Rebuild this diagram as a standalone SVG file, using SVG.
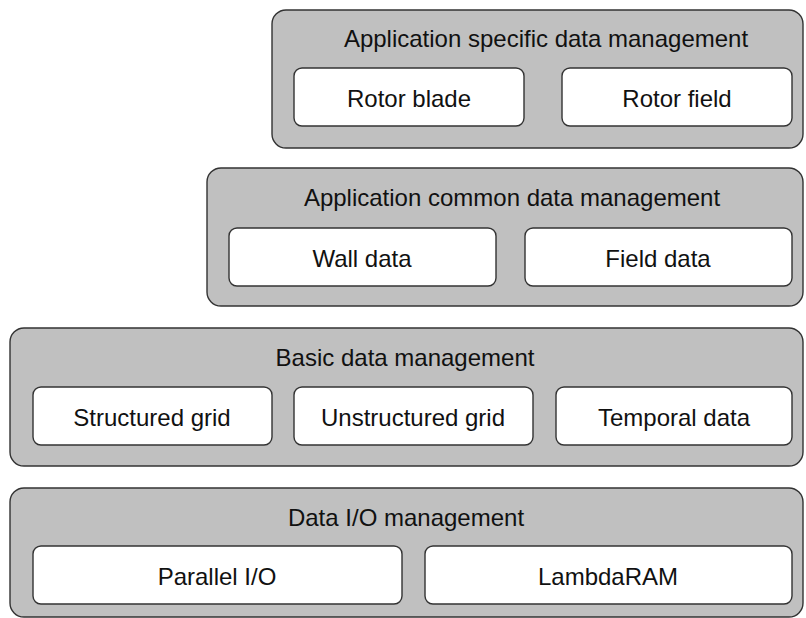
<svg xmlns="http://www.w3.org/2000/svg" width="806" height="618" viewBox="0 0 806 618">
<style>
.layer{fill:#c0c0c0;stroke:#333;stroke-width:1.4}
.box{fill:#fff;stroke:#333;stroke-width:1.4}
text{font-family:"Liberation Sans",Arial,sans-serif;font-size:24px;fill:#111;text-anchor:middle}
</style>
<rect width="806" height="618" fill="#fff"/>
<g id="layer-app-specific">
<rect class="layer" x="272" y="10" width="531" height="138" rx="14"/>
<text x="546" y="47">Application specific data management</text>
</g>
<g id="rotor-blade"><rect class="box" x="294" y="68" width="230" height="58" rx="8"/><text x="409" y="107">Rotor blade</text></g>
<g id="rotor-field"><rect class="box" x="562" y="68" width="230" height="58" rx="8"/><text x="677" y="107">Rotor field</text></g>
<g id="layer-app-common">
<rect class="layer" x="207" y="168" width="596" height="138" rx="14"/>
<text x="512" y="206">Application common data management</text>
</g>
<g id="wall-data"><rect class="box" x="229" y="228" width="267" height="58" rx="8"/><text x="362" y="267">Wall data</text></g>
<g id="field-data"><rect class="box" x="525" y="228" width="267" height="58" rx="8"/><text x="658" y="267">Field data</text></g>
<g id="layer-basic">
<rect class="layer" x="10" y="328" width="793" height="138" rx="14"/>
<text x="405" y="366">Basic data management</text>
</g>
<g id="structured-grid"><rect class="box" x="33" y="387" width="239" height="58" rx="8"/><text x="152" y="426">Structured grid</text></g>
<g id="unstructured-grid"><rect class="box" x="294" y="387" width="239" height="58" rx="8"/><text x="413" y="426">Unstructured grid</text></g>
<g id="temporal-data"><rect class="box" x="556" y="387" width="236" height="58" rx="8"/><text x="674" y="426">Temporal data</text></g>
<g id="layer-io">
<rect class="layer" x="10" y="488" width="793" height="129" rx="14"/>
<text x="406" y="526">Data I/O management</text>
</g>
<g id="parallel-io"><rect class="box" x="33" y="546" width="369" height="58" rx="8"/><text x="217" y="585">Parallel I/O</text></g>
<g id="lambdaram"><rect class="box" x="425" y="546" width="367" height="58" rx="8"/><text x="608" y="585">LambdaRAM</text></g>
<g id="connectors"/>
</svg>
